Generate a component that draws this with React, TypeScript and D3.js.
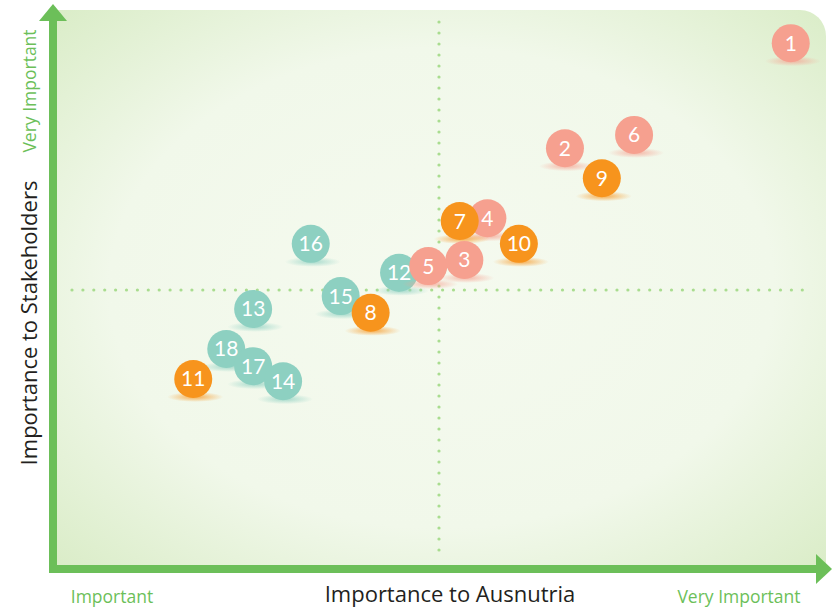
import React from 'react';
import * as d3 from 'd3';

// issue ids, in drawing order (later ones sit on top)
const ISSUES = [1, 2, 6, 9, 4, 7, 10, 16, 12, 5, 3, 15, 8, 13, 18, 17, 14, 11];
// importance to Ausnutria (0-10)
const X_VALUES = [9.58, 6.64, 7.54, 7.12, 5.63, 5.27, 6.04, 3.33, 4.48, 4.86, 5.33, 3.72, 4.11, 2.58, 2.23, 2.58, 2.97, 1.8];
// importance to stakeholders (0-10)
const Y_VALUES = [9.44, 7.55, 7.79, 7.01, 6.29, 6.24, 5.83, 5.83, 5.31, 5.43, 5.54, 4.89, 4.59, 4.66, 3.94, 3.63, 3.36, 3.4];
// category of each issue
const GROUPS = ['a', 'a', 'a', 'b', 'a', 'b', 'b', 'c', 'c', 'a', 'a', 'c', 'b', 'c', 'c', 'c', 'c', 'b'];

const GROUP_COLORS: Record<string, string> = { a: '#f6a08f', b: '#f7941d', c: '#8dd0c1' };
const GREEN = '#6cbf59';

const W = 833;
const H = 609;

export default function App() {
  const x = d3.scaleLinear().domain([0, 10]).range([55, 823]);
  const y = d3.scaleLinear().domain([0, 10]).range([568, 12]);

  const dotsX = d3.range(72, 812, 10.9);
  const dotsY = d3.range(22, 560, 11);

  const bg = d3.path();
  const bx0 = 57, by0 = 10, bx1 = 826, by1 = 566, rr = 26;
  bg.moveTo(bx0, by0);
  bg.lineTo(bx1 - rr, by0);
  bg.arcTo(bx1, by0, bx1, by0 + rr, rr);
  bg.lineTo(bx1, by1);
  bg.lineTo(bx0, by1);
  bg.closePath();

  return (
    <svg width={W} height={H} style={{ position: 'absolute', left: 0, top: 0 }}>
      <defs>
        <radialGradient id="bgGrad" cx="50%" cy="50%" r="72%">
          <stop offset="0%" stopColor="#f5faef" />
          <stop offset="60%" stopColor="#f1f8ea" />
          <stop offset="100%" stopColor="#d9ecc6" />
        </radialGradient>
        {Object.entries(GROUP_COLORS).map(([k, c]) => (
          <radialGradient key={k} id={`sh-${k}`} cx="50%" cy="50%" r="50%">
            <stop offset="0%" stopColor={c} stopOpacity={0.75} />
            <stop offset="100%" stopColor={c} stopOpacity={0} />
          </radialGradient>
        ))}
      </defs>

      <path d={bg.toString()} fill="url(#bgGrad)" />

      {/* dotted quadrant lines */}
      {dotsX.map((d, i) => (
        <circle key={`h${i}`} cx={d} cy={y(5)} r={1.6} fill="#a9dc8f" />
      ))}
      {dotsY.map((d, i) => (
        <circle key={`v${i}`} cx={x(5)} cy={d} r={1.6} fill="#a9dc8f" />
      ))}

      {/* axes */}
      <rect x={49} y={18} width={8} height={555} fill={GREEN} />
      <polygon points="39,21 53,4 67,21" fill={GREEN} />
      <rect x={49} y={565} width={768} height={8} fill={GREEN} />
      <polygon points="816,554 832,569 816,584" fill={GREEN} />

      {/* bubbles */}
      {ISSUES.map((id, i) => {
        const cx = x(X_VALUES[i]);
        const cy = y(Y_VALUES[i]);
        const g = GROUPS[i];
        return (
          <g key={id}>
            <ellipse cx={cx + 2} cy={cy + 18} rx={28} ry={5} fill={`url(#sh-${g})`} />
            <circle cx={cx} cy={cy} r={19} fill={GROUP_COLORS[g]} />
            <text
              x={cx}
              y={cy + 7.5}
              textAnchor="middle"
              fill="#fff"
              fontSize={21}
              fontFamily="Lato, 'Open Sans', sans-serif"
            >
              {id}
            </text>
          </g>
        );
      })}

      {/* axis titles */}
      <text x={450} y={602} textAnchor="middle" fontSize={22} fill="#231f20" fontFamily="'Open Sans', sans-serif">
        Importance to Ausnutria
      </text>
      <text x={112} y={603} textAnchor="middle" fontSize={17.5} fill={GREEN} fontFamily="'Open Sans', sans-serif">
        Important
      </text>
      <text x={739} y={603} textAnchor="middle" fontSize={17.5} fill={GREEN} fontFamily="'Open Sans', sans-serif">
        Very Important
      </text>
      <text
        transform="translate(37,323) rotate(-90)"
        textAnchor="middle"
        fontSize={22}
        fill="#231f20"
        fontFamily="'Open Sans', sans-serif"
      >
        Importance to Stakeholders
      </text>
      <text
        transform="translate(36,91) rotate(-90)"
        textAnchor="middle"
        fontSize={17.5}
        fill={GREEN}
        fontFamily="'Open Sans', sans-serif"
      >
        Very Important
      </text>
    </svg>
  );
}
